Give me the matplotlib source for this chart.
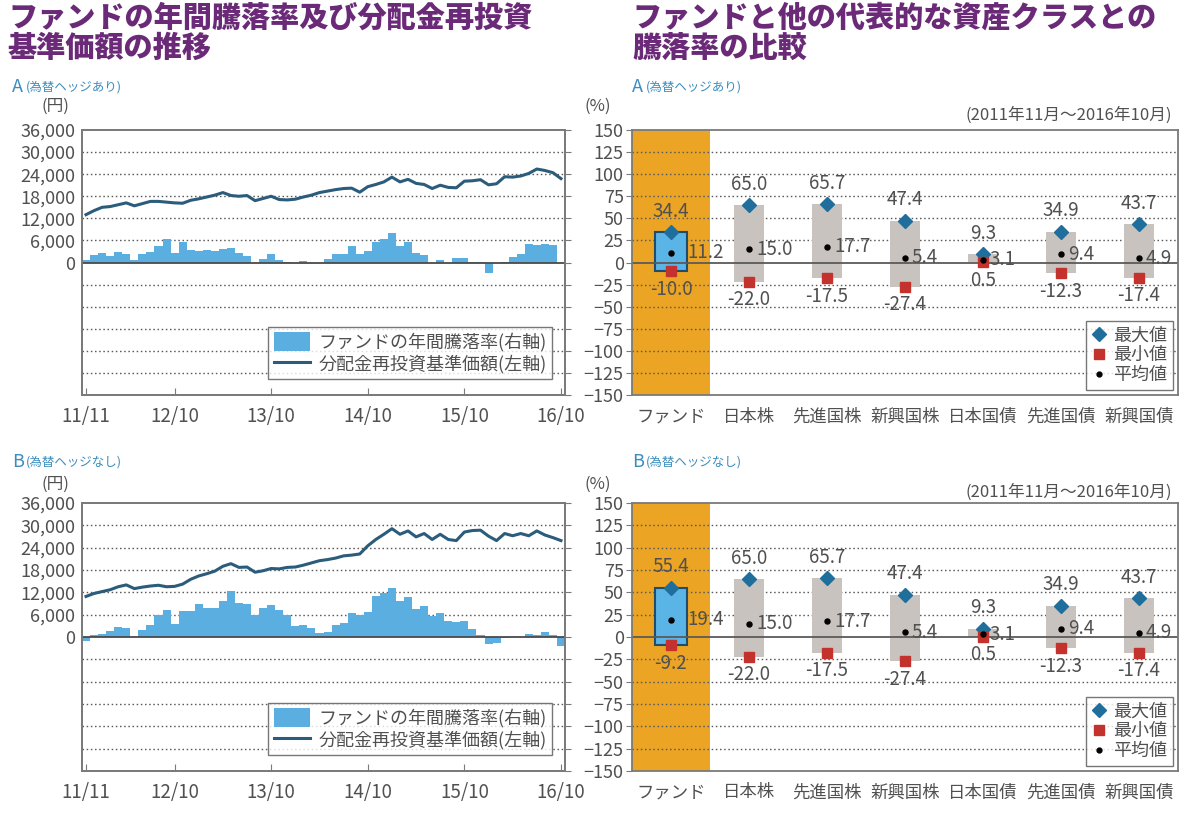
import matplotlib
matplotlib.use("Agg")
import matplotlib.pyplot as plt
from matplotlib.patches import Patch
from matplotlib.lines import Line2D
import numpy as np

plt.rcParams['font.family'] = ['Noto Sans CJK JP', 'DejaVu Sans']

# ---------------- data ----------------
month_ticks = [0, 11, 23, 35, 47, 59]
month_labels = ['11/11', '12/10', '13/10', '14/10', '15/10', '16/10']

nav_a = [13000, 14100, 15000, 15200, 15700, 16200, 15400, 16000, 16600, 16600,
         16400, 16200, 16100, 16900, 17300, 17800, 18300, 19000, 18200, 18000,
         18200, 16800, 17400, 18000, 17100, 17000, 17200, 17800, 18300, 19000,
         19400, 19800, 20100, 20200, 19100, 20600, 21200, 21900, 23200, 21900,
         22600, 21500, 21200, 20100, 21000, 20400, 20300, 22100, 22200, 22500,
         21100, 21400, 23300, 23200, 23500, 24200, 25400, 25000, 24400, 22800]
ret_a = [2.6, 8.0, 10.7, 7.4, 11.8, 9.2, 3.3, 9.6, 11.8, 19.0,
         27.0, 10.7, 23.5, 13.6, 12.9, 14.0, 12.9, 15.4, 16.5, 11.0,
         7.4, 0.0, 4.4, 9.2, 2.6, 0.7, -0.3, 1.5, 0.0, 0.0,
         4.4, 9.2, 9.2, 19.0, 9.2, 12.5, 23.5, 26.5, 33.0, 18.4,
         22.8, 11.0, 8.1, 0.0, 2.6, 0.0, 5.1, 5.1, 0.7, 0.7,
         -11.4, -1.1, 0.7, 6.2, 9.2, 21.0, 19.9, 21.0, 19.9, 0.0]

nav_b = [10900, 11700, 12200, 12700, 13500, 14000, 13000, 13400, 13700, 13900,
         13500, 13600, 14200, 15500, 16400, 17000, 17700, 19000, 19700, 18700,
         18800, 17400, 17800, 18400, 18300, 18700, 18800, 19300, 19900, 20500,
         20800, 21200, 21800, 22000, 22300, 24500, 26200, 27600, 29100, 27600,
         28500, 26900, 27800, 26200, 27600, 26200, 25900, 28200, 28600, 28700,
         27100, 25900, 27800, 27200, 27800, 27200, 28500, 27400, 26700, 25900]
ret_b = [-4.8, 1.8, 3.7, 6.3, 11.0, 9.9, 0.0, 7.4, 13.6, 24.6,
         30.5, 14.7, 29.4, 29.4, 37.5, 33.0, 32.0, 40.4, 51.5, 38.6,
         36.8, 24.6, 32.0, 36.0, 30.1, 24.6, 12.1, 13.6, 9.9, 4.8,
         5.5, 13.6, 15.8, 26.8, 24.6, 28.3, 46.0, 48.9, 55.1, 40.4,
         45.2, 31.2, 34.2, 23.9, 26.8, 18.4, 17.3, 18.4, 8.5, 2.6,
         -7.4, -6.2, -1.1, 0.0, 0.0, 3.7, 2.6, 5.5, 2.6, -9.9]

categories = ['ファンド', '日本株', '先進国株', '新興国株', '日本国債', '先進国債', '新興国債']
max_a = [34.4, 65.0, 65.7, 47.4, 9.3, 34.9, 43.7]
min_a = [-10.0, -22.0, -17.5, -27.4, 0.5, -12.3, -17.4]
avg_a = [11.2, 15.0, 17.7, 5.4, 3.1, 9.4, 4.9]
max_b = [55.4, 65.0, 65.7, 47.4, 9.3, 34.9, 43.7]
min_b = [-9.2, -22.0, -17.5, -27.4, 0.5, -12.3, -17.4]
avg_b = [19.4, 15.0, 17.7, 5.4, 3.1, 9.4, 4.9]

yen_ticks = [0, 6000, 12000, 18000, 24000, 30000, 36000]
pct_ticks = list(range(-150, 151, 25))

# ---------------- styles ----------------
PURPLE = '#6B2A78'
SUB = '#3C8DBE'
TXT = '#505050'
BAR = '#5AAFE0'
LINE = '#2B5C7B'
GRID = '#5A5A5A'
SPINE = '#7A7A7A'
ORANGE = '#EBA424'
GRAYBOX = '#C8C3BE'
DIAM = '#1F6E9C'
SQR = '#C3322C'
DOTS = (0, (1.1, 1.9))

fig = plt.figure(figsize=(12, 8.19), dpi=100)


def px(x, y):
    return x / 1200, 1 - y / 819


# titles
for (x, y, s) in [(8, 18, 'ファンドの年間騰落率及び分配金再投資'), (8, 48, '基準価額の推移'),
                  (632, 18, 'ファンドと他の代表的な資産クラスとの'), (632, 48, '騰落率の比較')]:
    fig.text(*px(x, y), s, fontsize=21, fontweight='heavy', color=PURPLE,
             va='center', ha='left')


def subtitle(x, y, letter, rest):
    fig.text(*px(x, y), letter, fontsize=13, color=SUB, va='center', ha='left')
    fig.text(*px(x + 14, y), rest, fontsize=9, color=SUB, va='center', ha='left')


subtitle(12, 87, 'A', '(為替ヘッジあり)')
subtitle(632, 87, 'A', '(為替ヘッジあり)')
subtitle(12, 462, 'B', '(為替ヘッジなし)')
subtitle(632, 462, 'B', '(為替ヘッジなし)')


def left_chart(rect, nav, ret, unit_y):
    ax = fig.add_axes(rect)
    ax2 = ax.twinx()
    ax.set_zorder(ax2.get_zorder() + 1)
    ax.patch.set_visible(False)
    n = len(nav)
    x = np.arange(n)
    ax2.bar(x, ret, width=1.0, color=BAR, edgecolor='none', zorder=2)
    for t in pct_ticks[1:-1]:
        if t == 0:
            continue
        ax2.axhline(t, color=GRID, lw=1.0, ls=DOTS, zorder=1)
    ax2.axhline(0, color='#4A4A4A', lw=1.3, zorder=3)
    ax2.set_ylim(-150, 150)
    ax2.set_yticks(pct_ticks)
    ax2.tick_params(axis='y', right=True, labelright=False, direction='out',
                    length=4, color=SPINE)
    ax.plot(x, nav, color=LINE, lw=2.2, zorder=5, solid_joinstyle='round')
    ax.set_ylim(-36000, 36000)
    ax.set_yticks(yen_ticks)
    ax.set_yticklabels([f'{v:,}' for v in yen_ticks])
    ax.tick_params(axis='y', length=0, labelsize=13, labelcolor=TXT, pad=5)
    ax.set_xlim(-0.5, n - 0.5)
    ax.set_xticks(month_ticks)
    ax.set_xticklabels(month_labels)
    ax.tick_params(axis='x', direction='in', length=5, color=SPINE,
                   labelsize=13.5, labelcolor=TXT, pad=8)
    ax2.tick_params(axis='x', length=0)
    for a in (ax, ax2):
        for s in a.spines.values():
            s.set_color(SPINE)
            s.set_linewidth(1.3)
    handles = [Patch(facecolor=BAR, edgecolor='none'),
               Line2D([0], [0], color=LINE, lw=2.2)]
    leg = ax.legend(handles, ['ファンドの年間騰落率(右軸)', '分配金再投資基準価額(左軸)'],
                    loc='lower right', bbox_to_anchor=(0.985, 0.04), fontsize=13,
                    frameon=True, fancybox=False, edgecolor='#555555',
                    handlelength=2.0, handleheight=1.2, borderpad=0.3,
                    labelspacing=0.15, handletextpad=0.5, borderaxespad=0.3)
    leg.get_frame().set_linewidth(1.0)
    for t in leg.get_texts():
        t.set_color(TXT)
    fig.text(*px(55, unit_y), '(円)', fontsize=12, color=TXT, ha='center', va='center')
    return ax


def right_chart(rect, mx, mn, av, unit_y, period_y):
    ax = fig.add_axes(rect)
    n = len(categories)
    x = np.arange(n)
    ax.axvspan(-0.5, 0.5, color=ORANGE, zorder=0.5, lw=0)
    for t in pct_ticks[1:-1]:
        if t == 0:
            continue
        ax.axhline(t, color=GRID, lw=1.0, ls=DOTS, zorder=1)
    ax.axhline(0, color='#5A5A5A', lw=1.3, zorder=2.5)
    heights = np.array(mx) - np.array(mn)
    ax.bar(x[:1], heights[:1], bottom=mn[:1], width=0.42, color='#5AB4E6',
           edgecolor='#1E4D6E', lw=1.5, zorder=2)
    ax.bar(x[1:], heights[1:], bottom=mn[1:], width=0.38, color=GRAYBOX,
           edgecolor='none', zorder=2)
    ax.plot(x, mx, 'D', color=DIAM, ms=7.5, zorder=4)
    ax.plot(x, mn, 's', color=SQR, ms=7, zorder=4)
    ax.plot(x, av, 'o', color='black', ms=3.6, zorder=4)
    for i in range(n):
        ax.annotate(f'{mx[i]:.1f}', (x[i], mx[i]), xytext=(0, 15), textcoords='offset points',
                    ha='center', va='center', fontsize=13.5, color=TXT, zorder=6)
        ax.annotate(f'{mn[i]:.1f}', (x[i], mn[i]), xytext=(0, -13), textcoords='offset points',
                    ha='center', va='center', fontsize=13.5, color=TXT, zorder=6)
        off = 12 if i == 0 else 5
        ax.annotate(f'{av[i]:.1f}', (x[i], av[i]), xytext=(off, 0), textcoords='offset points',
                    ha='left', va='center', fontsize=13.5, color=TXT, zorder=6)
    ax.set_xlim(-0.5, n - 0.5)
    ax.set_ylim(-150, 150)
    ax.set_yticks(pct_ticks)
    ax.tick_params(axis='y', direction='out', length=4, color=SPINE,
                   labelsize=13, labelcolor=TXT, pad=2)
    ax.set_xticks(x)
    ax.set_xticklabels(categories)
    ax.tick_params(axis='x', length=0, labelsize=12.5, labelcolor=TXT, pad=9)
    for s in ax.spines.values():
        s.set_color(SPINE)
        s.set_linewidth(1.3)
        s.set_zorder(7)
    handles = [Line2D([0], [0], marker='D', color=DIAM, ls='none', ms=7),
               Line2D([0], [0], marker='s', color=SQR, ls='none', ms=7),
               Line2D([0], [0], marker='o', color='black', ls='none', ms=3.5)]
    leg = ax.legend(handles, ['最大値', '最小値', '平均値'], loc='lower right',
                    bbox_to_anchor=(1.0, 0.0), fontsize=13, frameon=True, fancybox=False,
                    edgecolor='#555555', handlelength=0.8, handletextpad=0.4,
                    borderpad=0.3, labelspacing=0.1, borderaxespad=0.3)
    leg.get_frame().set_linewidth(1.0)
    leg.set_zorder(8)
    for t in leg.get_texts():
        t.set_color(TXT)
    fig.text(*px(598, unit_y), '(%)', fontsize=12, color=TXT, ha='center', va='center')
    fig.text(*px(1172, period_y), '(2011年11月～2016年10月)', fontsize=12, color=TXT,
             ha='right', va='center')
    return ax


left_chart([82 / 1200, 1 - 395 / 819, 483 / 1200, 265 / 819], nav_a, ret_a, 106)
left_chart([82 / 1200, 1 - 771 / 819, 483 / 1200, 268 / 819], nav_b, ret_b, 484)
right_chart([632 / 1200, 1 - 395 / 819, 546 / 1200, 265 / 819], max_a, min_a, avg_a, 106, 115)
right_chart([632 / 1200, 1 - 771 / 819, 546 / 1200, 268 / 819], max_b, min_b, avg_b, 484, 492)

fig.savefig('out.png', dpi=100)
